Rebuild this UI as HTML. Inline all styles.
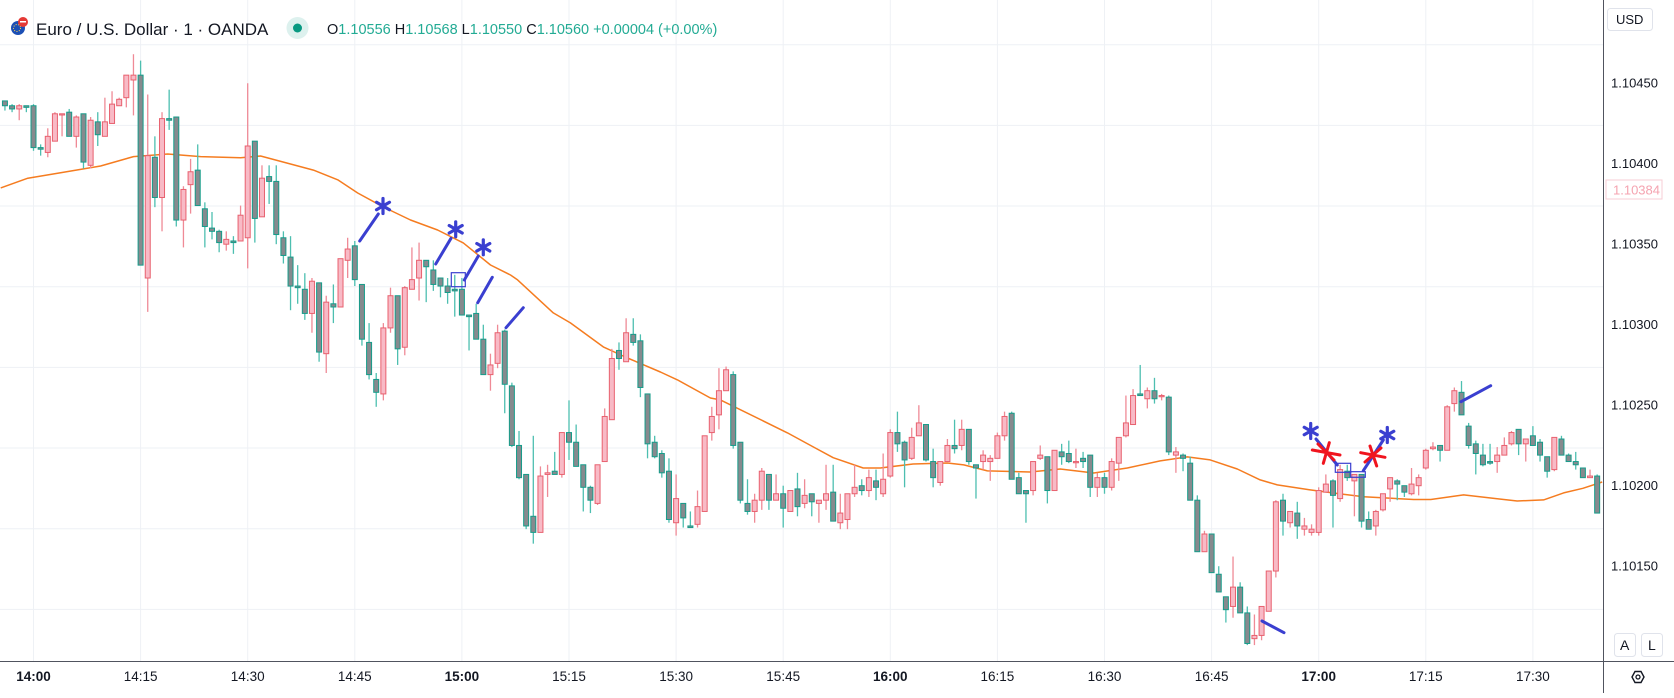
<!DOCTYPE html>
<html><head><meta charset="utf-8">
<style>
html,body{margin:0;padding:0;background:#fff;}
body{width:1674px;height:693px;overflow:hidden;font-family:"Liberation Sans",sans-serif;}
svg text{font-family:"Liberation Sans",sans-serif;}
</style></head>
<body>
<svg id="chart" width="1674" height="693" viewBox="0 0 1674 693" xmlns="http://www.w3.org/2000/svg">
  <rect x="0" y="0" width="1674" height="693" fill="#fff"/>
  <g id="grid"></g>
  <g id="ma"></g>
  <g id="candles"></g>
  <g id="drawings"></g>
  <!-- axes -->
  <rect x="1603" y="0" width="71" height="693" fill="#fff"/>
  <rect x="0" y="661" width="1674" height="32" fill="#fff"/>
  <line x1="1603.5" y1="0" x2="1603.5" y2="693" stroke="#50535e" stroke-width="1"/>
  <line x1="0" y1="661.5" x2="1674" y2="661.5" stroke="#50535e" stroke-width="1"/>
  <g id="yticks"></g>
  <g id="xticks"></g>
  <!-- price axis extras -->
  <g>
    <rect x="1607.5" y="8.5" width="45" height="22" rx="3" fill="#fff" stroke="#e0e3eb"/>
    <text x="1616" y="24" font-size="13" fill="#131722">USD</text>
  </g>
  <g>
    <rect x="1606" y="180" width="56" height="19" fill="#fff" stroke="#f7cdd4" stroke-width="1"/>
    <text x="1613" y="194.5" font-size="13" fill="#f5a3b0">1.10384</text>
  </g>
  <g>
    <rect x="1614.5" y="633.5" width="21" height="23" rx="3" fill="#fff" stroke="#e0e3eb"/>
    <text x="1620" y="650" font-size="14" fill="#131722">A</text>
  </g>
  <g>
    <rect x="1641.5" y="633.5" width="21" height="23" rx="3" fill="#fff" stroke="#e0e3eb"/>
    <text x="1648" y="650" font-size="14" fill="#131722">L</text>
  </g>
  <g>
    <polygon points="1632,677 1635,671.5 1641,671.5 1644,677 1641,682.5 1635,682.5" fill="none" stroke="#131722" stroke-width="1.4"/>
    <circle cx="1638" cy="677" r="2" fill="none" stroke="#131722" stroke-width="1.3"/>
  </g>
  <!-- header legend -->
  <g>
    <g>
      <circle cx="18" cy="28" r="7" fill="#1c4fb5"/>
      <circle cx="23" cy="22" r="5" fill="#e53935"/>
      <rect x="20" y="21" width="6" height="1.5" fill="#fff"/>
      <circle cx="17" cy="28" r="3.5" fill="none" stroke="#ffd54f" stroke-width="1" stroke-dasharray="1 1.5"/>
    </g>
    <text x="36" y="35" font-size="17" fill="#131722">Euro / U.S. Dollar · 1 · OANDA</text>
    <circle cx="297.5" cy="28" r="11" fill="#ddf1ee"/>
    <circle cx="297.5" cy="28" r="4.5" fill="#089981"/>
    <text x="327" y="34" font-size="14.5" fill="#22ab94"><tspan fill="#131722">O</tspan>1.10556 <tspan fill="#131722">H</tspan>1.10568 <tspan fill="#131722">L</tspan>1.10550 <tspan fill="#131722">C</tspan>1.10560 +0.00004 (+0.00%)</text>
  </g>
</svg>
<script>
// Prices stored in points (1e-5) above 1.10000
const BASE_PRICE = 1.1;
const open  = [439,436,434,436,436,410,407,414,431,432,417,431,399,426,417,425,436,441,452,455,329,404,379,428,429,365,387,396,372,360,358,350,352,352,354,414,367,392,389,354,342,324,322,307,326,282,313,311,340,349,325,289,266,257,298,318,286,322,329,340,334,329,324,322,322,306,307,291,269,276,296,262,225,207,181,171,207,209,207,233,227,213,199,189,215,241,284,277,294,290,257,227,220,209,177,189,175,176,184,233,244,259,269,227,189,184,191,207,191,195,184,198,189,195,189,191,196,177,179,195,200,197,203,195,206,233,227,217,231,238,215,202,215,225,225,235,213,215,215,217,231,245,205,197,197,217,218,197,221,220,215,217,219,199,205,199,214,231,238,257,254,259,256,255,219,219,214,191,159,170,145,131,125,137,121,105,107,122,147,191,177,183,173,171,171,196,203,192,209,203,207,179,175,185,198,203,200,195,200,211,223,225,222,251,258,237,226,219,215,215,219,226,235,226,231,227,218,210,229,219,215,211,205,206];
const high  = [439,437,437,436,437,412,422,432,431,434,430,431,429,432,441,445,441,455,468,464,443,417,432,446,429,386,403,412,376,370,359,358,355,374,450,414,399,399,399,358,355,337,332,329,326,318,325,341,354,352,325,301,270,301,323,318,324,348,351,340,340,329,329,331,329,306,313,300,282,300,297,264,234,207,231,212,213,221,233,253,238,213,200,213,248,285,289,304,304,294,257,231,222,217,207,189,184,197,231,249,273,274,271,227,204,195,211,207,207,200,197,208,204,195,191,213,213,195,195,213,204,210,210,220,235,246,228,236,250,238,223,215,229,241,241,235,213,222,219,233,246,246,208,197,215,225,218,222,226,228,223,221,219,208,208,217,230,256,260,275,261,267,257,256,224,220,218,194,172,170,150,131,156,140,125,120,125,147,191,195,184,190,180,176,199,207,204,213,213,207,207,184,185,195,205,204,200,211,207,223,227,225,250,261,265,239,228,226,226,224,230,234,235,229,237,229,218,230,231,220,221,211,210,207];
const low   = [433,432,427,432,408,405,404,414,417,417,410,397,397,411,417,425,438,435,430,337,308,373,358,421,361,348,369,374,348,353,345,346,344,352,335,351,367,375,350,338,309,313,303,295,277,270,301,311,329,324,287,266,249,253,295,275,281,322,315,314,321,317,313,305,306,284,291,269,259,273,245,224,204,173,164,171,193,207,205,216,212,184,183,188,215,241,272,277,287,255,217,217,205,177,169,174,174,174,184,228,235,259,223,189,182,177,185,185,191,174,184,181,186,181,177,185,178,173,173,193,194,193,191,193,205,221,199,216,231,215,199,200,215,220,222,213,192,210,203,217,228,204,195,177,194,216,189,197,213,214,211,211,193,193,195,197,203,230,238,256,248,251,253,219,208,209,191,159,159,146,134,115,118,121,101,101,104,122,143,169,174,167,169,169,169,196,174,190,203,181,174,173,169,184,190,191,193,194,194,210,222,215,222,246,244,223,207,212,213,208,219,225,219,215,225,215,205,209,219,215,210,205,205,183];
const close = [436,434,436,435,410,409,417,431,431,417,429,401,427,418,426,437,440,455,455,337,405,379,428,427,365,384,395,374,361,358,351,353,351,368,411,366,391,389,356,343,324,323,307,327,283,314,311,341,347,328,291,269,258,298,318,285,323,328,340,336,325,324,320,321,306,305,291,269,275,295,263,225,205,175,171,206,208,207,233,227,212,199,191,213,243,279,279,295,289,261,226,218,208,179,192,180,174,187,231,243,259,272,225,191,184,191,209,191,195,186,197,187,194,190,191,195,178,183,195,199,197,205,199,204,233,226,216,230,239,216,205,215,225,223,235,215,211,219,217,231,243,204,195,195,215,219,197,222,218,215,215,215,199,205,199,215,230,239,256,256,259,254,256,221,221,217,191,159,170,146,134,123,137,121,102,107,125,147,190,178,184,175,175,173,197,201,194,210,205,207,178,173,184,195,205,201,196,201,205,222,224,222,249,259,244,225,220,213,214,219,225,233,226,229,225,219,209,230,219,215,213,205,206,183];
// Moving average samples: minute index (from first candle) and value in points
const maIndex = [-0.6,3.2,7.8,13.4,18,22.8,27.4,33,35.8,43.2,46.6,49.4,53,56.8,60.6,64.2,68,70.8,71.8,76.8,79.2,83.8,87.2,91.8,94.2,98.8,100.2,109.6,113.2,116,120.2,122.6,127.2,132,134.3,137.6,143.6,147.8,152.5,157.2,161.8,165.6,168.8,172.6,175.8,178.2,182.8,187,190.3,197.3,199.7,204.3,209,211.8,215.5,218.3,221,223.7];
const maValue = [385,391,394.4,398.6,404.4,406,404.4,403.7,404.8,396,390,381.8,373.1,365,358.8,350.8,337.1,330.9,327.8,307.3,301.1,286.2,279.3,270.6,265.7,254.5,253.3,232.8,224.1,217.4,211,211,213.5,214.1,212.9,209.2,208.5,210.4,207.9,211,215.4,217.9,216,210.4,203.6,200.5,197.4,194.9,193.1,191.4,191.4,194.3,191.9,190.5,191.2,195.5,198.4,202.3];
const priceTicks = ["1.10450","1.10400","1.10350","1.10300","1.10250","1.10200","1.10150"];
const priceTickValues = [450,400,350,300,250,200,150];
const timeTicks = ["14:00","14:15","14:30","14:45","15:00","15:15","15:30","15:45","16:00","16:15","16:30","16:45","17:00","17:15","17:30"];
const timeTickIndex = [4,19,34,49,64,79,94,109,124,139,154,169,184,199,214];

const NS = "http://www.w3.org/2000/svg";
function xScale(i){ return 33.5 + (i - 4) * 7.14; }
function yScale(pts){ return 807.7 - pts * 1.61; }
function mk(tag, attrs, parent){
  const e = document.createElementNS(NS, tag);
  for (const k in attrs) e.setAttribute(k, attrs[k]);
  parent.appendChild(e);
  return e;
}
const grid = document.getElementById('grid');
// horizontal grid lines (between price labels)
for (let k = 0; k < 8; k++) {
  const y = 44.7 + k * 80.67;
  const l = mk('line', {x1:0, x2:1603, y1:y, y2:y, stroke:'#eef1f5', 'stroke-width':1}, grid);
  
  
}
timeTickIndex.forEach(function(ix){
  const x = xScale(ix);
  const l = mk('line', {x1:x, x2:x, y1:0, y2:661, stroke:'#eef1f5', 'stroke-width':1}, grid);
  
  
});

// price ticks
const yt = document.getElementById('yticks');
priceTicks.forEach(function(lbl, i){
  const t = mk('text', {x:1611, y:yScale(priceTickValues[i]) + 4.5, 'font-size':13, fill:'#131722'}, yt);
  t.textContent = lbl;
  
  
});
// time ticks
const xt = document.getElementById('xticks');
timeTicks.forEach(function(lbl, i){
  const bold = lbl.endsWith(':00');
  const t = mk('text', {x:xScale(timeTickIndex[i]), y:681, 'font-size':13.5, fill:'#131722', 'text-anchor':'middle', 'font-weight': bold ? 'bold' : 'normal'}, xt);
  t.textContent = lbl;
  
  
});

// moving average
const maG = document.getElementById('ma');
let d = '';
maIndex.forEach(function(ix, i){ d += (i ? 'L' : 'M') + xScale(ix).toFixed(1) + ',' + yScale(maValue[i]).toFixed(1); });
const maPath = mk('path', {d:d, fill:'none', stroke:'#f57c20', 'stroke-width':1.5, 'stroke-linejoin':'round'}, maG);



// candles
const cg = document.getElementById('candles');
for (let i = 0; i < open.length; i++) {
  const up = close[i] >= open[i];
  const x = xScale(i);
  const g = mk('g', {}, cg);
  
  
  mk('line', {x1:x, x2:x, y1:yScale(high[i]), y2:yScale(low[i]), stroke: up ? '#ef8a96' : '#4dbfb0', 'stroke-width':1.3}, g);
  const top = yScale(Math.max(open[i], close[i]));
  const bot = yScale(Math.min(open[i], close[i]));
  mk('rect', {x:x - 2.5, y:top, width:5, height:Math.max(bot - top, 1.2), fill: up ? '#f8bac6' : '#868a8e', stroke: up ? '#e8616f' : '#169c8a', 'stroke-width':1}, g);
}

// drawings (hand-drawn annotations)
const dg = document.getElementById('drawings');
function seg(x1,y1,x2,y2,color,name){
  const l = mk('line', {x1:x1,y1:y1,x2:x2,y2:y2,stroke:color,'stroke-width':3,'stroke-linecap':'round'}, dg);
  
  
}
function star(cx, cy){
  const g = mk('g', {}, dg);
  
  
  for (let a = 0; a < 3; a++) {
    const ang = Math.PI / 2 + a * Math.PI / 3;
    const dx = Math.cos(ang) * 7.5, dy = Math.sin(ang) * 7.5;
    mk('line', {x1:cx-dx, y1:cy-dy, x2:cx+dx, y2:cy+dy, stroke:'#3a3fd0', 'stroke-width':3.2, 'stroke-linecap':'round'}, g);
  }
}
function box(x,y,w,h){
  const r = mk('rect', {x:x,y:y,width:w,height:h,fill:'none',stroke:'#3a3fd0','stroke-width':1.2}, dg);
  
  
}
const BLUE = '#3a3fd0', RED = '#f0141e';
seg(359.7,241,378.3,214,BLUE,'trend-line');
star(383,206);
seg(435.7,264,451,238.3,BLUE,'trend-line');
star(455.7,229.3);
seg(464.3,280,478.3,256,BLUE,'trend-line');
star(483.3,247.3);
box(451.3,272.7,14,14);
seg(477.7,302.7,492.3,277.3,BLUE,'trend-line');
seg(506,327.7,523.3,307.7,BLUE,'trend-line');
seg(1262,621,1284,632.7,BLUE,'trend-line');
star(1310.7,431);
seg(1316,439,1337.3,465,BLUE,'trend-line');
seg(1312.3,450,1340,455,RED,'cross-marker');
seg(1329.3,442.7,1323.3,463.3,RED,'cross-marker');
seg(1318,444,1334,460,RED,'cross-marker');
box(1335.3,463.3,15.4,9);
box(1350.7,471.7,14.6,5.6);
seg(1363.3,470.7,1383.3,440,BLUE,'trend-line');
star(1387.3,435);
seg(1360.7,452.7,1385,457.3,RED,'cross-marker');
seg(1370,446,1376.7,466,RED,'cross-marker');
seg(1365,462,1381,448,RED,'cross-marker');
seg(1461,401.7,1490.7,385.7,BLUE,'trend-line');
</script>
</body></html>
